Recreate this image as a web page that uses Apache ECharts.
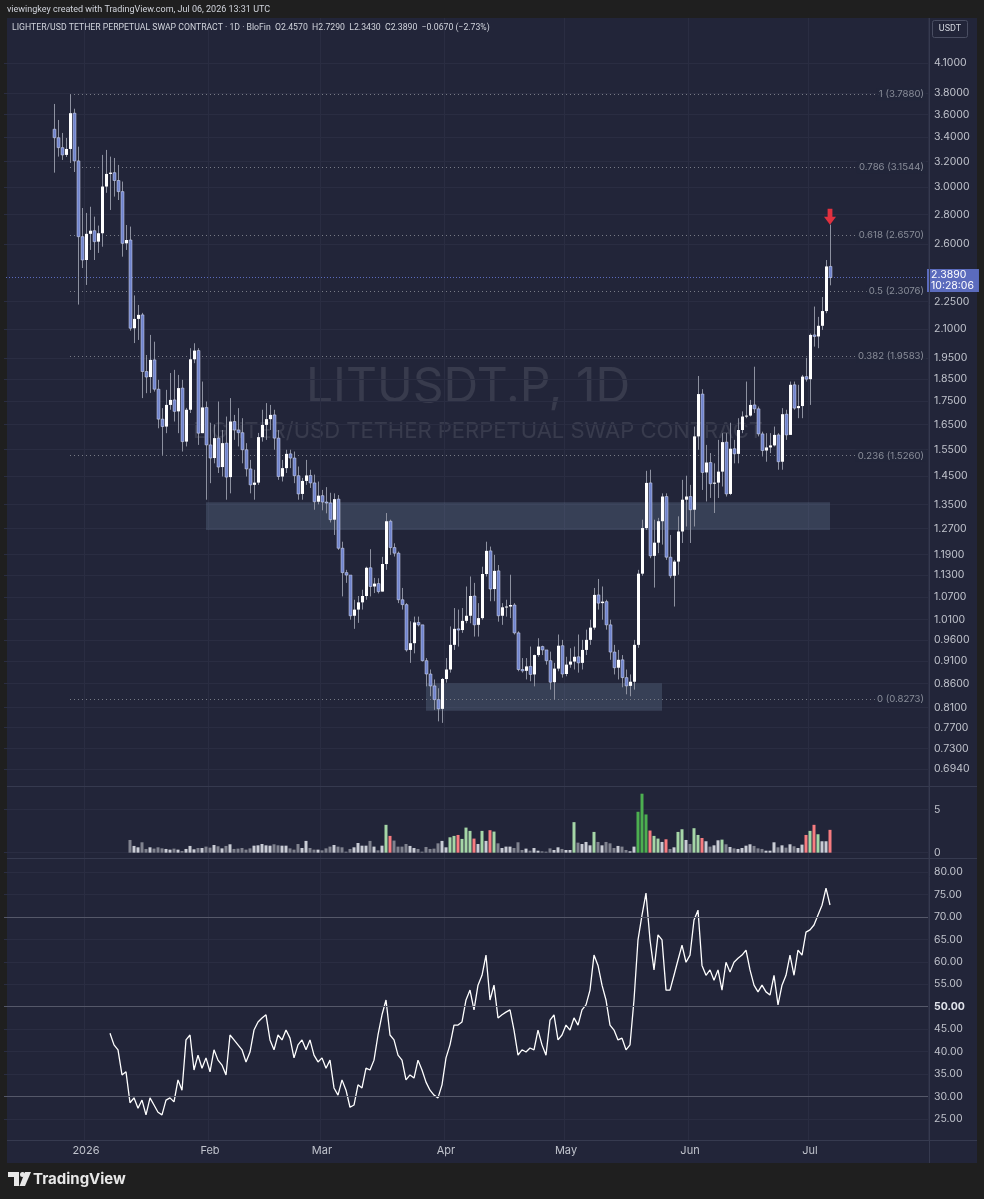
<!DOCTYPE html>
<html>
<head>
<meta charset="utf-8">
<title>LITUSDT.P 1D</title>
<script src="https://cdn.jsdelivr.net/npm/echarts@6/dist/echarts.min.js"></script>
<style>
  html, body { margin: 0; padding: 0; background: #1f1f1f; }
  #chart { width: 984px; height: 1199px; }
</style>
</head>
<body>
<div id="chart"></div>
<script>
// daily candles 2025-12-24 .. 2026-07-06, open = previous close
const firstDay = '2025-12-24'
const firstOpen = 3.470
const closes = [
  3.397, 3.313, 3.253, 3.302, 3.613, 3.204, 2.648, 2.497, 2.667, 2.688,
  2.615, 2.671, 3.004, 3.101, 3.111, 3.050, 2.966, 2.604, 2.626, 2.103,
  2.153, 2.175, 1.886, 1.860, 1.942, 1.804, 1.673, 1.642, 1.734, 1.756,
  1.706, 1.809, 1.581, 1.713, 1.945, 1.988, 1.615, 1.723, 1.568, 1.517,
  1.595, 1.483, 1.575, 1.446, 1.663, 1.628, 1.617, 1.549, 1.476, 1.418,
  1.426, 1.599, 1.649, 1.673, 1.691, 1.595, 1.448, 1.479, 1.533, 1.517,
  1.451, 1.386, 1.432, 1.452, 1.425, 1.359, 1.380, 1.358, 1.355, 1.299,
  1.368, 1.209, 1.137, 1.130, 1.020, 1.036, 1.055, 1.072, 1.151, 1.098,
  1.106, 1.084, 1.162, 1.294, 1.211, 1.194, 1.062, 1.049, 0.936, 0.952,
  1.003, 0.997, 0.911, 0.881, 0.855, 0.826, 0.807, 0.870, 0.891, 0.948,
  0.987, 0.984, 1.007, 1.020, 1.072, 0.997, 1.014, 1.133, 1.201, 1.091,
  1.142, 1.020, 1.042, 1.044, 1.048, 0.977, 0.891, 0.888, 0.898, 0.880,
  0.924, 0.944, 0.936, 0.911, 0.863, 0.893, 0.946, 0.881, 0.902, 0.909,
  0.920, 0.906, 0.936, 0.960, 0.990, 1.075, 1.053, 1.057, 0.997, 0.931,
  0.895, 0.913, 0.873, 0.855, 0.864, 0.948, 1.134, 1.272, 1.425, 1.186,
  1.226, 1.294, 1.377, 1.182, 1.128, 1.169, 1.261, 1.366, 1.377, 1.332,
  1.602, 1.782, 1.463, 1.500, 1.422, 1.426, 1.466, 1.579, 1.386, 1.553,
  1.533, 1.628, 1.684, 1.688, 1.734, 1.717, 1.612, 1.546, 1.558, 1.566,
  1.608, 1.503, 1.694, 1.608, 1.824, 1.720, 1.729, 1.862, 1.850, 2.068,
  2.060, 2.116, 2.196, 2.457, 2.389
]
const highs = [
  3.698, 3.552, 3.438, 3.395, 3.788, 3.654, 3.321, 2.846, 2.811, 2.855,
  2.785, 2.723, 3.253, 3.294, 3.239, 3.228, 3.172, 3.042, 2.727, 2.716,
  2.284, 2.230, 2.186, 1.966, 2.068, 2.033, 1.847, 1.720, 1.801, 1.879,
  1.894, 1.870, 1.847, 1.721, 2.000, 2.025, 2.000, 1.839, 1.749, 1.658,
  1.651, 1.749, 1.628, 1.684, 1.764, 1.691, 1.720, 1.677, 1.575, 1.510,
  1.473, 1.616, 1.713, 1.742, 1.734, 1.713, 1.628, 1.510, 1.549, 1.549,
  1.542, 1.485, 1.443, 1.510, 1.473, 1.455, 1.430, 1.400, 1.410, 1.390,
  1.388, 1.382, 1.229, 1.145, 1.130, 1.062, 1.072, 1.089, 1.154, 1.206,
  1.122, 1.121, 1.183, 1.321, 1.299, 1.224, 1.199, 1.094, 1.053, 1.006,
  1.018, 1.018, 0.997, 0.917, 0.891, 0.869, 0.850, 0.872, 0.917, 0.993,
  1.040, 1.036, 1.040, 1.098, 1.126, 1.108, 1.053, 1.154, 1.229, 1.214,
  1.189, 1.159, 1.053, 1.062, 1.131, 1.053, 0.981, 0.917, 0.917, 0.944,
  0.925, 0.964, 0.946, 0.932, 0.932, 0.906, 0.973, 0.960, 0.920, 0.940,
  0.944, 0.973, 0.960, 0.985, 1.010, 1.094, 1.119, 1.098, 1.062, 1.010,
  0.948, 0.936, 0.924, 0.891, 0.880, 0.960, 1.145, 1.299, 1.469, 1.473,
  1.299, 1.305, 1.388, 1.388, 1.250, 1.174, 1.310, 1.436, 1.451, 1.418,
  1.642, 1.865, 1.804, 1.568, 1.536, 1.497, 1.588, 1.615, 1.615, 1.658,
  1.588, 1.677, 1.706, 1.839, 1.756, 1.909, 1.727, 1.621, 1.615, 1.615,
  1.642, 1.615, 1.720, 1.713, 1.839, 1.839, 1.824, 1.870, 1.952, 2.075,
  2.221, 2.164, 2.275, 2.497, 2.729
]
const lows = [
  3.111, 3.239, 3.212, 3.236, 3.188, 3.116, 2.232, 2.447, 2.345, 2.561,
  2.497, 2.542, 2.582, 2.957, 2.832, 2.929, 2.904, 2.518, 2.561, 2.090,
  2.026, 2.042, 1.764, 1.786, 1.787, 1.793, 1.635, 1.529, 1.615, 1.713,
  1.663, 1.615, 1.542, 1.562, 1.699, 1.926, 1.568, 1.615, 1.366, 1.424,
  1.497, 1.461, 1.448, 1.366, 1.388, 1.588, 1.562, 1.497, 1.448, 1.388,
  1.366, 1.418, 1.581, 1.588, 1.628, 1.549, 1.436, 1.430, 1.461, 1.479,
  1.424, 1.366, 1.366, 1.418, 1.407, 1.332, 1.350, 1.330, 1.320, 1.290,
  1.250, 1.204, 1.071, 1.108, 1.010, 0.987, 1.002, 1.036, 1.062, 1.071,
  1.080, 1.079, 1.084, 1.145, 1.189, 1.184, 1.053, 1.036, 0.932, 0.906,
  0.928, 0.993, 0.909, 0.854, 0.833, 0.805, 0.782, 0.779, 0.862, 0.884,
  0.936, 0.944, 0.977, 1.001, 1.001, 0.968, 0.968, 1.010, 1.126, 1.058,
  1.058, 1.005, 0.997, 1.018, 1.014, 0.973, 0.887, 0.884, 0.869, 0.865,
  0.854, 0.920, 0.924, 0.902, 0.847, 0.826, 0.887, 0.873, 0.876, 0.895,
  0.891, 0.884, 0.891, 0.924, 0.948, 0.985, 1.036, 1.010, 0.985, 0.913,
  0.880, 0.869, 0.852, 0.837, 0.833, 0.847, 0.941, 1.128, 1.266, 1.179,
  1.095, 1.194, 1.220, 1.174, 1.121, 1.044, 1.131, 1.225, 1.277, 1.225,
  1.277, 1.549, 1.400, 1.360, 1.372, 1.321, 1.372, 1.412, 1.377, 1.382,
  1.497, 1.497, 1.615, 1.677, 1.684, 1.699, 1.602, 1.523, 1.503, 1.536,
  1.562, 1.473, 1.473, 1.588, 1.608, 1.713, 1.677, 1.677, 1.839, 1.734,
  2.008, 2.000, 2.094, 2.184, 2.343
]
// volume (millions) from 2026-01-12 (candle index 19)
const volStart = 19
const volumes = [
  1.47, 0.78, 0.62, 1.20, 0.43, 0.62, 0.47, 0.62, 0.50, 0.43,
  0.35, 0.47, 0.35, 0.19, 0.43, 0.78, 0.39, 0.54, 0.54, 0.70,
  0.58, 0.89, 0.74, 0.50, 0.78, 0.97, 0.43, 0.47, 0.54, 0.35,
  0.50, 0.81, 0.85, 1.00, 0.85, 0.81, 0.97, 0.85, 0.81, 0.81,
  0.50, 0.35, 1.00, 0.54, 1.36, 0.54, 0.35, 0.35, 0.27, 0.50,
  0.70, 0.89, 0.70, 0.62, 0.12, 0.43, 0.62, 1.12, 0.81, 0.81,
  1.36, 0.70, 0.27, 0.81, 3.22, 1.94, 1.40, 0.70, 0.70, 1.00,
  0.78, 0.54, 0.43, 0.12, 0.66, 0.43, 0.47, 1.08, 1.36, 0.62,
  1.78, 1.94, 2.05, 1.59, 2.90, 2.52, 1.63, 1.00, 2.52, 1.36,
  2.60, 2.44, 1.08, 0.54, 0.70, 0.70, 0.54, 1.20, 0.31, 0.47,
  0.23, 0.54, 0.23, 0.16, 0.12, 0.50, 0.31, 0.62, 0.43, 0.31,
  0.31, 3.53, 1.16, 1.00, 1.24, 0.85, 2.40, 1.24, 0.85, 1.24,
  1.08, 0.54, 0.78, 0.70, 0.31, 0.16, 0.70, 4.73, 6.82, 4.42,
  2.56, 1.94, 1.63, 1.24, 1.55, 0.43, 0.62, 2.40, 2.71, 1.47,
  1.00, 2.83, 2.05, 1.70, 1.32, 0.70, 0.85, 1.43, 1.51, 0.97,
  0.66, 0.50, 0.43, 0.54, 0.81, 0.97, 0.78, 0.50, 0.43, 0.23,
  0.23, 1.20, 0.62, 0.85, 0.58, 0.97, 0.74, 0.54, 0.93, 2.05,
  2.52, 3.22, 2.13, 1.32, 1.32, 2.64
]
// RSI(14) from candle index 14
const rsiStart = 14
const rsi = [
  44.1, 41.5, 40.4, 34.8, 35.5, 28.6, 29.7, 27.4, 29.2, 25.9,
  29.7, 28.1, 26.5, 25.9, 29.2, 29.7, 28.8, 33.7, 31.4, 42.6,
  43.7, 35.9, 39.2, 36.3, 38.6, 35.5, 40.4, 38.1, 37.0, 34.8,
  43.7, 42.6, 41.5, 40.4, 37.7, 39.9, 44.8, 46.6, 47.5, 48.2,
  42.6, 40.4, 43.7, 42.6, 44.8, 43.0, 38.6, 41.5, 42.6, 40.4,
  42.6, 39.2, 37.7, 38.6, 36.3, 38.1, 31.9, 30.3, 33.7, 31.4,
  27.6, 28.1, 32.6, 31.9, 36.3, 35.9, 38.1, 43.7, 48.2, 51.5,
  43.7, 42.6, 39.2, 38.1, 33.7, 34.8, 34.1, 38.1, 35.9, 33.2,
  31.4, 30.3, 29.7, 32.6, 38.6, 41.5, 45.9, 45.9, 46.6, 51.5,
  53.7, 49.3, 54.8, 57.0, 61.5, 51.5, 54.8, 47.5, 48.2, 48.8,
  49.3, 44.8, 39.2, 40.4, 39.9, 40.8, 40.4, 44.8, 41.5, 39.2,
  47.0, 48.2, 42.6, 43.7, 45.9, 44.8, 47.5, 45.9, 49.3, 50.4,
  53.7, 61.5, 59.2, 54.8, 51.5, 45.9, 44.8, 42.6, 43.0, 40.4,
  41.5, 51.5, 64.9, 70.4, 75.3, 64.9, 58.2, 66.0, 64.9, 53.7,
  53.7, 57.0, 60.4, 63.7, 59.9, 61.5, 69.3, 71.5, 59.2, 57.0,
  58.2, 55.9, 58.2, 53.7, 59.9, 57.7, 59.9, 60.8, 61.5, 62.6,
  58.2, 54.8, 53.3, 54.8, 53.3, 52.6, 57.0, 50.4, 54.8, 57.0,
  61.5, 57.0, 62.6, 61.5, 66.6, 67.1, 68.2, 70.4, 72.6, 76.4,
  72.65
]
const priceTicks = [4.1, 3.8, 3.6, 3.4, 3.2, 3.0, 2.8, 2.6, 2.25, 2.1, 1.95, 1.85, 1.75, 1.65,
  1.55, 1.45, 1.35, 1.27, 1.19, 1.13, 1.07, 1.01, 0.96, 0.91, 0.86, 0.81, 0.77, 0.73, 0.694]
const volTicks = [0, 5]
const rsiTicks = [25, 30, 35, 40, 45, 50, 55, 60, 65, 70, 75, 80]
const rsiLevels = [70, 50, 30]
const monthLabels = {
  '2026-01-01': '2026', '2026-02-01': 'Feb', '2026-03-01': 'Mar', '2026-04-01': 'Apr',
  '2026-05-01': 'May', '2026-06-01': 'Jun', '2026-07-01': 'Jul'
}
const fibStart = '2025-12-28'
const fibLevels = [[0, 0.8273], [0.236, 1.5260], [0.382, 1.9583], [0.5, 2.3076],
  [0.618, 2.6570], [0.786, 3.1544], [1, 3.7880]]
// boxes: from date, to date, low, high
const zones = [
  ['2026-06-30', '2026-07-31', 2.561, 2.693],
  ['2026-01-31', '2026-07-06', 1.266, 1.357],
  ['2026-03-27', '2026-05-25', 0.8034, 0.8607]
]
const lastPrice = 2.389
const lastVolLabel = '3'
const lastRsi = 72.65

// category axis: one slot per day
const cats = []
const day0 = Date.UTC(2025, 11, 12)
for (let k = 0; k < 231; k++) {
  cats.push(new Date(day0 + k * 86400000).toISOString().slice(0, 10))
}
const off = cats.indexOf(firstDay)
const lastK = off + closes.length - 1
const endK = cats.length - 1

const opens = closes.map((c, i) => i === 0 ? firstOpen : closes[i - 1])
const candleData = closes.map((c, i) => [off + i, opens[i], c, lows[i], highs[i]])

const volData = cats.map(() => null)
volumes.forEach((v, j) => {
  const i = volStart + j
  const up = closes[i] >= opens[i]
  let color
  if (v >= 4) color = up ? '#4caf50' : '#f23645'
  else if (v >= 1.5) color = up ? '#a5d6a7' : '#f77c80'
  else color = up ? '#c9ccd5' : '#80838f'
  volData[off + i] = { value: v, itemStyle: { color: color } }
})
const rsiData = cats.map(() => null)
rsi.forEach((v, j) => { rsiData[off + rsiStart + j] = v })

const gridColor = '#2a2d42'
const labelColor = '#c0c3cc'
const panelColor = '#222539'
const font = 'Inter, "Noto Sans", sans-serif'

function renderCandle (params, api) {
  const k = api.value(0)
  const o = api.value(1)
  const c = api.value(2)
  const top = api.coord([k, Math.max(o, c)])
  const bot = api.coord([k, Math.min(o, c)])
  const hi = api.coord([k, api.value(4)])
  const lo = api.coord([k, api.value(3)])
  const x = Math.round(top[0])
  const up = c >= o
  return {
    type: 'group',
    children: [
      { type: 'line', shape: { x1: x + 0.5, y1: hi[1], x2: x + 0.5, y2: lo[1] }, style: { stroke: '#8d91a0', lineWidth: 1 } },
      {
        type: 'rect',
        shape: { x: x - 1, y: top[1], width: 3, height: Math.max(bot[1] - top[1], 1) },
        style: up ? { fill: '#ffffff' } : { fill: '#6f83cc', stroke: '#d5dbf2', lineWidth: 0.5 }
      }
    ]
  }
}

const monthTick = (idx, val) => monthLabels[val] !== undefined

const chart = echarts.init(document.getElementById('chart'))
chart.setOption({
  backgroundColor: '#1f1f1f',
  animation: false,
  textStyle: { fontFamily: font },
  grid: [
    { left: 4, right: 56, top: 18, bottom: 1199 - 786 },
    { left: 4, right: 56, top: 786, bottom: 1199 - 858 },
    { left: 4, right: 56, top: 858, bottom: 1199 - 1140 }
  ],
  xAxis: [0, 1, 2].map(g => ({
    type: 'category',
    gridIndex: g,
    data: cats,
    axisLine: { show: false },
    axisTick: { show: false },
    axisLabel: g === 2
      ? { show: true, interval: monthTick, formatter: v => monthLabels[v] || '', color: labelColor, fontSize: 11, margin: 5 }
      : { show: false },
    splitLine: { show: true, interval: monthTick, lineStyle: { color: gridColor, width: 1 } }
  })),
  yAxis: [
    {
      type: 'log', gridIndex: 0, position: 'right', min: 0.6646, max: 4.591,
      axisLine: { show: false },
      axisTick: { show: false, customValues: priceTicks },
      axisLabel: { customValues: priceTicks, formatter: v => v.toFixed(4), color: labelColor, fontSize: 10.5, margin: 6 },
      splitLine: { show: true, lineStyle: { color: gridColor } }
    },
    {
      type: 'value', gridIndex: 1, position: 'right', min: -0.616, max: 7.71,
      axisLine: { show: false },
      axisTick: { show: false, customValues: volTicks },
      axisLabel: { customValues: volTicks, color: labelColor, fontSize: 10.5, margin: 6 },
      splitLine: { show: true, lineStyle: { color: gridColor } }
    },
    {
      type: 'value', gridIndex: 2, position: 'right', min: 20.31, max: 83.12,
      axisLine: { show: false },
      axisTick: { show: false, customValues: rsiTicks },
      axisLabel: {
        customValues: rsiTicks,
        formatter: v => v === 50 ? '{b|50.00}' : v.toFixed(2),
        color: labelColor, fontSize: 10.5, margin: 6,
        rich: { b: { fontWeight: 'bold', color: '#e0e3eb', fontSize: 10.5 } }
      },
      splitLine: { show: true, lineStyle: { color: gridColor } }
    }
  ],
  series: [
    {
      name: 'LITUSDT.P',
      type: 'custom',
      xAxisIndex: 0,
      yAxisIndex: 0,
      renderItem: renderCandle,
      encode: { x: 0, y: [1, 2, 3, 4] },
      data: candleData,
      z: 5,
      markArea: {
        silent: true,
        itemStyle: { color: 'rgba(115,138,165,0.27)' },
        data: zones.map(z => [{ coord: [z[0], z[3]] }, { coord: [z[1], z[2]] }])
      },
      markLine: {
        silent: true,
        symbol: 'none',
        animation: false,
        label: { show: false },
        data: fibLevels.map(([r, p]) => [
          { coord: [fibStart, p], lineStyle: { color: '#787b86', type: [1, 3], width: 1 } },
          { coord: [cats[endK], p] }
        ]).concat([[
          {
            coord: [cats[0], lastPrice],
            lineStyle: { color: '#5b6bbd', type: [1, 2], width: 1 },
            label: {
              show: true, position: 'end', distance: 1,
              formatter: lastPrice.toFixed(4) + '\n10:28:06',
              color: '#ffffff', fontSize: 10.5, lineHeight: 10.5,
              backgroundColor: '#5b6bbd', padding: [1, 5, 1, 4], offset: [0, 3]
            }
          },
          { coord: [cats[endK], lastPrice] }
        ]])
      },
      markPoint: {
        silent: true,
        data: [{
          coord: [cats[lastK], highs[highs.length - 1]],
          symbol: 'path://M3,0 L7,0 L7,6 L10,6 L5,12 L0,6 L3,6 Z',
          symbolSize: [12, 16],
          symbolOffset: [0, -8],
          itemStyle: { color: '#e0313f' },
          label: { show: false }
        }]
      }
    },
    {
      name: 'Fib labels',
      type: 'scatter',
      xAxisIndex: 0,
      yAxisIndex: 0,
      symbolSize: 0,
      silent: true,
      z: 6,
      data: fibLevels.map(([r, p]) => ({ value: [endK, p], name: r + ' (' + p.toFixed(4) + ')' })),
      label: {
        show: true, position: 'left', distance: 0,
        formatter: d => d.name,
        color: '#a3a6b0', fontSize: 9.6, backgroundColor: panelColor, padding: [1, 2]
      }
    },
    {
      name: 'Volume',
      type: 'bar',
      xAxisIndex: 1,
      yAxisIndex: 1,
      barWidth: 3,
      data: volData,
      markLine: {
        silent: true,
        symbol: 'none',
        lineStyle: { opacity: 0 },
        data: [{
          yAxis: volumes[volumes.length - 1],
          label: {
            show: true, position: 'end', distance: 2, formatter: lastVolLabel,
            color: '#ffffff', fontSize: 10.5, backgroundColor: '#f77c80', padding: [1, 4]
          }
        }]
      }
    },
    {
      name: 'RSI',
      type: 'line',
      xAxisIndex: 2,
      yAxisIndex: 2,
      data: rsiData,
      symbol: 'none',
      lineStyle: { color: '#ffffff', width: 1.3 },
      markLine: {
        silent: true,
        symbol: 'none',
        data: rsiLevels.map(v => ({ yAxis: v, lineStyle: { color: '#555869', type: 'solid', width: 1 }, label: { show: false } }))
          .concat([{
            yAxis: lastRsi,
            lineStyle: { opacity: 0 },
            label: {
              show: true, position: 'end', distance: 2, formatter: lastRsi.toFixed(2),
              color: '#131722', fontSize: 10.5, backgroundColor: '#ffffff', padding: [1, 3]
            }
          }])
      }
    }
  ],
  graphic: [
    { type: 'rect', z: -10, silent: true, shape: { x: 7, y: 18, width: 970, height: 1145 }, style: { fill: panelColor } },
    { type: 'text', z: -5, silent: true, style: { text: 'LITUSDT.P, 1D', x: 468, y: 388, textAlign: 'center', textVerticalAlign: 'middle', font: '48px Inter, sans-serif', fill: 'rgba(255,255,255,0.1)' } },
    { type: 'text', z: -5, silent: true, style: { text: 'LIGHTER/USD TETHER PERPETUAL SWAP CONTRACT', x: 478, y: 431, textAlign: 'center', textVerticalAlign: 'middle', font: '22px Inter, sans-serif', fill: 'rgba(255,255,255,0.1)' } },
    { type: 'text', z: 10, silent: true, style: { text: 'viewingkey created with TradingView.com, Jul 06, 2026 13:31 UTC', x: 7, y: 10, textVerticalAlign: 'middle', font: '9px Roboto, sans-serif', fill: '#d1d4dc' } },
    { type: 'text', z: 10, silent: true, style: { text: 'LIGHTER/USD TETHER PERPETUAL SWAP CONTRACT · 1D · BloFin  O2.4570  H2.7290  L2.3430  C2.3890  −0.0670 (−2.73%)', x: 12, y: 28, textVerticalAlign: 'middle', font: '8.7px Roboto, sans-serif', fill: '#d1d4dc' } },
    { type: 'rect', z: 10, silent: true, shape: { x: 932.5, y: 20.5, width: 35, height: 17, r: 2 }, style: { fill: panelColor, stroke: '#4a4e62', lineWidth: 1 } },
    { type: 'text', z: 11, silent: true, style: { text: 'USDT', x: 950, y: 29, textAlign: 'center', textVerticalAlign: 'middle', font: '9px Roboto, sans-serif', fill: '#d1d4dc' } },
    { type: 'line', z: 10, silent: true, shape: { x1: 7, y1: 786.5, x2: 977, y2: 786.5 }, style: { stroke: '#363a4f', lineWidth: 1 } },
    { type: 'line', z: 10, silent: true, shape: { x1: 7, y1: 858.5, x2: 977, y2: 858.5 }, style: { stroke: '#363a4f', lineWidth: 1 } },
    { type: 'line', z: 10, silent: true, shape: { x1: 7, y1: 1140.5, x2: 977, y2: 1140.5 }, style: { stroke: '#363a4f', lineWidth: 1 } },
    { type: 'line', z: 10, silent: true, shape: { x1: 929.5, y1: 18, x2: 929.5, y2: 1163 }, style: { stroke: '#363a4f', lineWidth: 1 } },
    { type: 'polygon', z: 10, silent: true, shape: { points: [[8, 1172], [19, 1172], [19, 1186], [14, 1186], [14, 1177], [8, 1177]] }, style: { fill: '#e8e8e8' } },
    { type: 'circle', z: 10, silent: true, shape: { cx: 22.5, cy: 1174.5, r: 2.5 }, style: { fill: '#e8e8e8' } },
    { type: 'polygon', z: 10, silent: true, shape: { points: [[25, 1172], [31, 1172], [25, 1186], [19.5, 1186]] }, style: { fill: '#e8e8e8' } },
    { type: 'text', z: 10, silent: true, style: { text: 'TradingView', x: 33, y: 1179, textVerticalAlign: 'middle', font: 'bold 15px Inter, sans-serif', fill: '#e8e8e8' } }
  ]
})
</script>
</body>
</html>
